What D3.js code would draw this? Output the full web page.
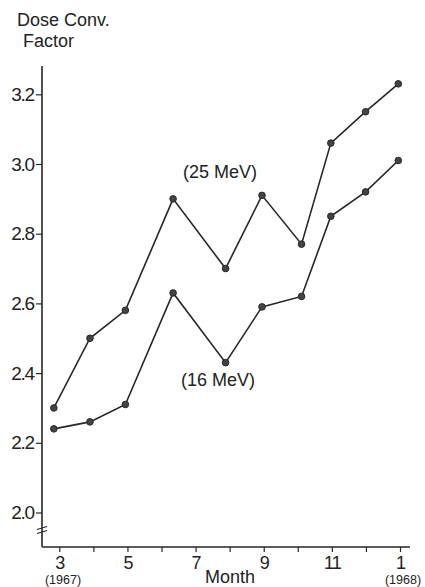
<!DOCTYPE html>
<html>
<head>
<meta charset="utf-8">
<script src="https://cdn.jsdelivr.net/npm/d3@7"></script>
<style>
  body { margin: 0; background: #fff; }
  text { font-family: "Liberation Sans", Arial, sans-serif; fill: #222; }
</style>
</head>
<body>
<div id="chart"></div>
<script>
'use strict'

// sampling dates, as month number (13 = Jan 1968)
let months = [2.84, 3.9, 4.94, 6.34, 7.88, 8.95, 10.11, 10.97, 11.99, 12.95]
let dose25 = [2.30, 2.50, 2.58, 2.90, 2.70, 2.91, 2.77, 3.06, 3.15, 3.23]
let dose16 = [2.24, 2.26, 2.31, 2.63, 2.43, 2.59, 2.62, 2.85, 2.92, 3.01]

let xTicks = [3, 4, 5, 6, 7, 8, 9, 10, 11, 12, 13]
let xLabels = {3: "3", 5: "5", 7: "7", 9: "9", 11: "11", 13: "1"}
let yTicks = [2.0, 2.2, 2.4, 2.6, 2.8, 3.0, 3.2]

let width = 425
let height = 587
let x0 = 42      // y axis position
let yBase = 547  // x axis position

let xscale = d3.scaleLinear()
  .domain([3, 13])
  .range([59.3, 400])

let yscale = d3.scaleLinear()
  .domain([2.0, 3.2])
  .range([512.5, 94.3])

let svg = d3.select("#chart").append("svg")
  .attr("width", width)
  .attr("height", height)

let ink = "#262626"

/*
  y axis
*/
let yAxis = d3.axisLeft(yscale)
  .tickValues(yTicks)
  .tickFormat(d3.format(".1f"))
  .tickSize(6)
  .tickPadding(2)

let gy = svg.append("g")
  .attr("transform", "translate(" + x0 + ",0)")
  .call(yAxis)
gy.select(".domain").remove()
gy.selectAll("line").attr("stroke", ink).attr("stroke-width", 1.2)
gy.selectAll("text")
  .style("font-size", "19px")
  .style("letter-spacing", "-1.2px")
  .attr("fill", ink)

svg.append("line")
  .attr("x1", x0).attr("x2", x0)
  .attr("y1", 66).attr("y2", yBase)
  .attr("stroke", ink).attr("stroke-width", 1.6)

// axis break
;[528, 532].forEach(function (y) {
  svg.append("line")
    .attr("x1", x0 - 5).attr("x2", x0 + 5)
    .attr("y1", y + 1.5).attr("y2", y - 1.5)
    .attr("stroke", ink).attr("stroke-width", 1.2)
})

/*
  x axis
*/
let xAxis = d3.axisBottom(xscale)
  .tickValues(xTicks)
  .tickFormat(function (d) { return xLabels[d] || "" })
  .tickSize(5)
  .tickSizeOuter(0)

let gx = svg.append("g")
  .attr("transform", "translate(0," + yBase + ")")
  .call(xAxis)
gx.select(".domain").remove()
gx.selectAll("line").attr("stroke", ink).attr("stroke-width", 1.2)
gx.selectAll("text")
  .attr("y", 22)
  .attr("dy", 0)
  .style("font-size", "18px")
  .style("letter-spacing", "-1px")
  .attr("fill", ink)

svg.append("line")
  .attr("x1", x0).attr("x2", 410)
  .attr("y1", yBase).attr("y2", yBase)
  .attr("stroke", ink).attr("stroke-width", 1.6)

/*
  series
*/
let line = d3.line()
  .x(function (d) { return xscale(d[0]) })
  .y(function (d) { return yscale(d[1]) })

function series(values) {
  let pts = months.map(function (m, i) { return [m, values[i]] })
  svg.append("path")
    .datum(pts)
    .attr("d", line)
    .attr("fill", "none")
    .attr("stroke", ink)
    .attr("stroke-width", 1.6)
  svg.selectAll(null)
    .data(pts)
    .enter()
    .append("circle")
    .attr("cx", function (d) { return xscale(d[0]) })
    .attr("cy", function (d) { return yscale(d[1]) })
    .attr("r", 3.3)
    .attr("fill", "#444")
    .attr("stroke", ink)
    .attr("stroke-width", 1)
}
series(dose25)
series(dose16)

/*
  texts
*/
function label(txt, x, y, size, anchor) {
  svg.append("text")
    .attr("x", x)
    .attr("y", y)
    .attr("text-anchor", anchor || "start")
    .style("font-size", size + "px")
    .text(txt)
}
label("Dose Conv.", 17, 26, 18)
label("Factor", 23, 47, 18)
label("(25 MeV)", 220, 178, 18, "middle")
label("(16 MeV)", 218, 386, 18, "middle")
label("Month", 230, 583, 18, "middle")
label("(1967)", 63, 584, 12.5, "middle")
label("(1968)", 403, 584, 12.5, "middle")
</script>
</body>
</html>
